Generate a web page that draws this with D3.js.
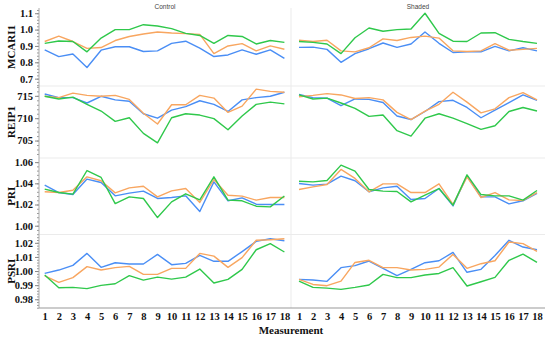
<!DOCTYPE html>
<html>
<head>
<meta charset="utf-8">
<script src="https://cdn.jsdelivr.net/npm/d3@7"></script>
<style>
  body { margin: 0; background: #fff; }
  svg text { font-family: "Liberation Serif", "Times New Roman", serif; }
</style>
</head>
<body>
<div id="chart"></div>
<script>
// measurement numbers along the x axis
const measurements = d3.range(1, 19);
const groups = ['Control', 'Shaded'];
const indices = ['MCARI1', 'REIP1', 'PRI', 'PSRI'];
const lineColors = ['#4a8ef5', '#f8a660', '#2fc84b'];

// tick labels per row
const mcariTicks = [0.7, 0.8, 0.9, 1.0, 1.1];
const reipTicks = [705, 710, 715];
const priTicks = [1.00, 1.02, 1.04, 1.06];
const psriTicks = [0.98, 0.99, 1.00, 1.01, 1.02];

// MCARI1
const mcariControlBlue   = [0.876,0.835,0.851,0.768,0.874,0.895,0.895,0.866,0.870,0.916,0.929,0.887,0.835,0.845,0.876,0.849,0.876,0.824];
const mcariControlOrange = [0.927,0.960,0.927,0.885,0.890,0.933,0.958,0.973,0.985,0.979,0.975,0.971,0.853,0.900,0.914,0.870,0.900,0.880];
const mcariControlGreen  = [0.916,0.930,0.927,0.864,0.948,1.000,1.000,1.030,1.022,1.006,0.977,0.964,0.916,0.964,0.958,0.912,0.933,0.922];
const mcariShadedBlue    = [0.891,0.893,0.879,0.800,0.853,0.883,0.918,0.891,0.912,0.985,0.916,0.860,0.864,0.864,0.897,0.870,0.889,0.870];
const mcariShadedOrange  = [0.935,0.927,0.935,0.870,0.864,0.889,0.943,0.933,0.952,0.960,0.948,0.870,0.866,0.870,0.914,0.874,0.879,0.885];
const mcariShadedGreen   = [0.927,0.922,0.912,0.853,0.950,1.010,0.990,1.000,1.004,1.100,0.977,0.929,0.927,0.979,0.981,0.940,0.927,0.916];

// REIP1
const reipControlBlue   = [715.4,714.6,714.6,713.4,714.9,714.1,713.8,711.0,710.0,711.8,712.6,713.9,713.1,711.5,714.1,714.6,714.9,715.8];
const reipControlOrange = [714.9,714.6,715.6,715.1,714.9,715.1,714.2,711.1,708.7,713.0,713.0,715.1,714.5,711.3,712.7,716.5,716.0,715.8];
const reipControlGreen  = [714.9,714.3,714.7,713.1,711.6,709.3,710.1,706.6,704.5,710.1,711.0,710.7,709.9,707.4,710.5,713.1,713.6,713.2];
const reipShadedBlue    = [715.3,714.6,714.5,712.8,714.3,714.2,713.5,710.5,709.7,711.5,713.7,714.0,712.4,710.1,711.8,713.5,715.2,714.0];
const reipShadedOrange  = [714.8,715.1,715.5,715.2,714.4,714.6,714.1,711.3,709.7,711.6,713.1,715.8,713.6,711.2,712.1,714.6,715.7,714.1];
const reipShadedGreen   = [715.2,714.3,714.5,713.4,712.2,710.4,710.7,707.2,706.0,710.0,711.0,710.0,708.8,707.5,708.3,711.5,712.4,711.6];

// PRI
const priControlBlue   = [1.0383,1.0313,1.0294,1.0440,1.0408,1.0282,1.0307,1.0326,1.0257,1.0266,1.0282,1.0134,1.0414,1.0235,1.0263,1.0203,1.0200,1.0200];
const priControlOrange = [1.0320,1.0313,1.0335,1.0461,1.0424,1.0310,1.0357,1.0373,1.0272,1.0329,1.0351,1.0219,1.0436,1.0288,1.0279,1.0241,1.0266,1.0266];
const priControlGreen  = [1.0345,1.0313,1.0298,1.0521,1.0455,1.0209,1.0272,1.0257,1.0077,1.0225,1.0301,1.0244,1.0461,1.0241,1.0235,1.0184,1.0178,1.0280];
const priShadedBlue    = [1.0398,1.0383,1.0392,1.0468,1.0424,1.0320,1.0357,1.0373,1.0247,1.0257,1.0351,1.0187,1.0471,1.0272,1.0272,1.0206,1.0235,1.0304];
const priShadedOrange  = [1.0342,1.0367,1.0389,1.0531,1.0446,1.0320,1.0395,1.0395,1.0313,1.0313,1.0395,1.0200,1.0461,1.0266,1.0313,1.0244,1.0238,1.0313];
const priShadedGreen   = [1.0420,1.0414,1.0427,1.0572,1.0515,1.0342,1.0326,1.0323,1.0225,1.0288,1.0351,1.0194,1.0480,1.0294,1.0282,1.0282,1.0241,1.0332];

// PSRI
const psriControlBlue   = [0.9983,1.0007,1.0040,1.0125,1.0026,1.0059,1.0050,1.0050,1.0118,1.0045,1.0054,1.0111,1.0069,1.0069,1.0138,1.0210,1.0229,1.0215];
const psriControlOrange = [0.9965,0.9920,0.9953,1.0031,1.0007,1.0024,1.0033,0.9976,0.9976,1.0019,1.0019,1.0125,1.0106,1.0026,1.0095,1.0218,1.0222,1.0229];
const psriControlGreen  = [0.9972,0.9882,0.9884,0.9875,0.9898,0.9910,0.9967,0.9936,0.9957,0.9943,0.9957,1.0014,0.9915,0.9941,1.0012,1.0151,1.0194,1.0135];
const psriShadedBlue    = [0.9941,0.9936,0.9927,1.0024,1.0038,1.0071,1.0019,0.9967,1.0012,1.0059,1.0073,1.0132,0.9991,1.0012,1.0110,1.0218,1.0170,1.0151];
const psriShadedOrange  = [0.9941,0.9905,0.9896,0.9929,1.0061,1.0076,1.0024,1.0024,1.0007,1.0012,1.0028,1.0118,1.0019,1.0052,1.0073,1.0206,1.0194,1.0140];
const psriShadedGreen   = [0.9929,0.9884,0.9879,0.9870,0.9884,0.9901,0.9976,0.9953,0.9953,0.9972,0.9983,1.0024,0.9894,0.9924,0.9955,1.0076,1.0120,1.0062];

const rows = [
  { name: 'MCARI1', ticks: mcariTicks, domain: [0.655, 1.132], fmt: d3.format('.1f'),
    series: [[mcariControlBlue, mcariControlOrange, mcariControlGreen], [mcariShadedBlue, mcariShadedOrange, mcariShadedGreen]] },
  { name: 'REIP1', ticks: reipTicks, domain: [701.1, 717.2], fmt: d3.format('d'),
    series: [[reipControlBlue, reipControlOrange, reipControlGreen], [reipShadedBlue, reipShadedOrange, reipShadedGreen]] },
  { name: 'PRI', ticks: priTicks, domain: [0.9917, 1.0639], fmt: d3.format('.2f'),
    series: [[priControlBlue, priControlOrange, priControlGreen], [priShadedBlue, priShadedOrange, priShadedGreen]] },
  { name: 'PSRI', ticks: psriTicks, domain: [0.9738, 1.0259], fmt: d3.format('.2f'),
    series: [[psriControlBlue, psriControlOrange, psriControlGreen], [psriShadedBlue, psriShadedOrange, psriShadedGreen]] }
];

const width = 550, height = 338;
const plotLeft = 39, plotRight = 545, panelSplit = 291;
const rowEdges = [8, 86, 158, 234.5, 308];

const svg = d3.select('#chart').append('svg')
  .attr('width', width)
  .attr('height', height);

// one x scale per group panel
const panels = [
  { x0: plotLeft, x1: panelSplit, range: [44.7, 284.4] },
  { x0: panelSplit, x1: plotRight, range: [299, 537] }
];
panels.forEach(p => {
  p.x = d3.scalePoint().domain(measurements).range(p.range);
});

// grid separators
rowEdges.slice(1, -1).forEach(y => {
  svg.append('line')
    .attr('x1', plotLeft).attr('x2', plotRight)
    .attr('y1', y).attr('y2', y)
    .attr('stroke', '#ebebeb').attr('stroke-width', 1);
});
svg.append('line')
  .attr('x1', panelSplit).attr('x2', panelSplit)
  .attr('y1', 8).attr('y2', rowEdges[4])
  .attr('stroke', '#ebebeb').attr('stroke-width', 1);

// group titles
groups.forEach((g, i) => {
  svg.append('text')
    .attr('x', (panels[i].x0 + panels[i].x1) / 2)
    .attr('y', 8.5)
    .attr('text-anchor', 'middle')
    .style('font-family', 'Arial, "Liberation Sans", sans-serif')
    .style('font-size', '6.5px')
    .attr('fill', '#444')
    .text(g);
});

rows.forEach((row, r) => {
  const y = d3.scaleLinear().domain(row.domain).range([rowEdges[r + 1], rowEdges[r]]);

  // minor ticks
  const minor = d3.range(row.ticks[0] - (row.ticks[1] - row.ticks[0]), row.ticks[row.ticks.length - 1] + (row.ticks[1] - row.ticks[0]) + 1e-9, (row.ticks[1] - row.ticks[0]) / 5)
    .filter(v => v >= row.domain[0] && v <= row.domain[1]);
  svg.append('g')
    .attr('transform', `translate(${plotLeft},0)`)
    .call(d3.axisLeft(y).tickValues(minor).tickSize(2).tickFormat(''))
    .call(g => g.select('.domain').remove())
    .selectAll('line').attr('stroke', '#999');

  const axis = svg.append('g')
    .attr('transform', `translate(${plotLeft},0)`)
    .call(d3.axisLeft(y).tickValues(row.ticks).tickSize(4).tickPadding(2).tickFormat(row.fmt));
  axis.select('.domain').remove();
  axis.selectAll('line').attr('stroke', '#888');
  axis.selectAll('text')
    .style('font-size', '10.5px')
    .style('font-weight', 'bold')
    .attr('fill', '#111');

  // y axis line for the row
  svg.append('line')
    .attr('x1', plotLeft).attr('x2', plotLeft)
    .attr('y1', rowEdges[r]).attr('y2', rowEdges[r + 1])
    .attr('stroke', '#aaa');

  // row title
  svg.append('text')
    .attr('transform', `translate(15,${(rowEdges[r] + rowEdges[r + 1]) / 2}) rotate(-90)`)
    .attr('text-anchor', 'middle')
    .style('font-size', '11px')
    .style('font-weight', 'bold')
    .attr('fill', '#111')
    .text(row.name);

  // lines
  panels.forEach((p, gi) => {
    const line = d3.line()
      .x((d, i) => p.x(measurements[i]))
      .y(d => y(d));
    row.series[gi].forEach((vals, si) => {
      svg.append('path')
        .datum(vals)
        .attr('d', line)
        .attr('fill', 'none')
        .attr('stroke', lineColors[si])
        .attr('stroke-width', 1.4)
        .attr('stroke-linejoin', 'round');
    });
  });
});

// x axes
panels.forEach(p => {
  const ax = svg.append('g')
    .attr('transform', `translate(0,${rowEdges[4]})`)
    .call(d3.axisBottom(p.x).tickSize(0).tickPadding(5));
  ax.select('.domain').remove();
  ax.selectAll('text')
    .style('font-size', '10.5px')
    .style('font-weight', 'bold')
    .attr('fill', '#111');
});
svg.append('line')
  .attr('x1', plotLeft).attr('x2', plotRight)
  .attr('y1', rowEdges[4]).attr('y2', rowEdges[4])
  .attr('stroke', '#999');

svg.append('text')
  .attr('x', 291)
  .attr('y', 334)
  .attr('text-anchor', 'middle')
  .style('font-size', '11px')
  .style('font-weight', 'bold')
  .attr('fill', '#111')
  .text('Measurement');
</script>
</body>
</html>
